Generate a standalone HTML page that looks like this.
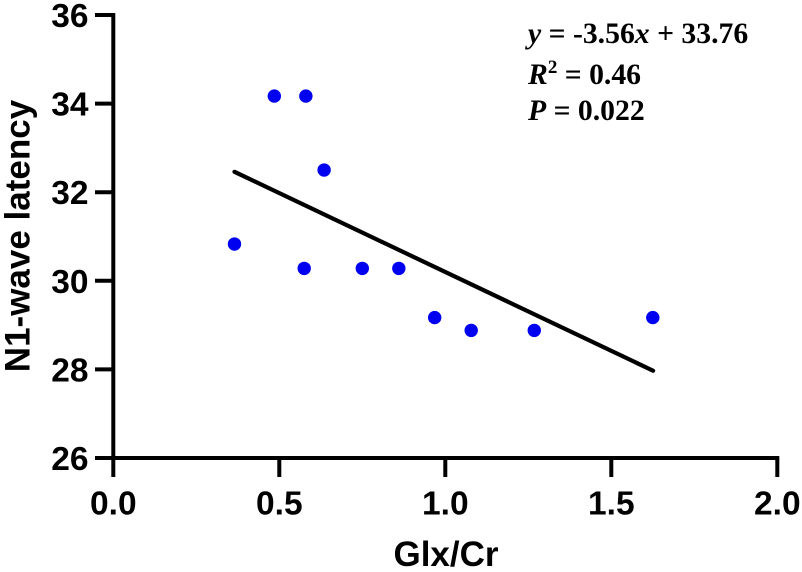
<!DOCTYPE html>
<html>
<head>
<meta charset="utf-8">
<style>
html,body{margin:0;padding:0;background:#fff;}
svg{display:block;}
.tick-label{font-family:"Liberation Sans",sans-serif;font-weight:bold;font-size:33.5px;fill:#000;}
.axis-title{font-family:"Liberation Sans",sans-serif;font-weight:bold;font-size:35px;fill:#000;}
.eq{font-family:"Liberation Serif",serif;font-weight:bold;font-size:29.7px;fill:#000;}
</style>
</head>
<body>
<svg id="chart" width="802" height="572" viewBox="0 0 802 572" xmlns="http://www.w3.org/2000/svg">
<text class="axis-title" transform="translate(29.5,236) rotate(-90)" text-anchor="middle">N1-wave latency</text>
<text class="axis-title" x="446" y="566" text-anchor="middle">Glx/Cr</text>
<text class="eq" x="528" y="43"><tspan font-style="italic">y</tspan> = -3.56<tspan font-style="italic">x</tspan> + 33.76</text>
<text class="eq" x="528" y="84"><tspan font-style="italic">R</tspan><tspan font-size="19" dy="-11">2</tspan><tspan dy="11"> = 0.46</tspan></text>
<text class="eq" x="528" y="120"><tspan font-style="italic">P</tspan> = 0.022</text>
</svg>
<script>
const xTicks = [0.0, 0.5, 1.0, 1.5, 2.0];
const yTicks = [26, 28, 30, 32, 34, 36];
const glxCr = [0.365, 0.485, 0.58, 0.635, 0.575, 0.75, 0.86, 0.968, 1.078, 1.268, 1.625];
const latency = [30.83, 34.17, 34.17, 32.5, 30.28, 30.28, 30.28, 29.17, 28.88, 28.88, 29.17];
const fitX = [0.365, 1.626];
const fitY = [32.46, 27.97];

const svg = document.getElementById('chart');
const NS = 'http://www.w3.org/2000/svg';
function sx(v){ return 113.3 + v * 332; }
function sy(v){ return 458 - (v - 26) * 44.3; }
function make(tag, attrs){
  const el = document.createElementNS(NS, tag);
  for (const k in attrs) el.setAttribute(k, attrs[k]);
  svg.appendChild(el);
  return el;
}
const AXW = 4;
const xAxis = make('line', {x1: sx(0) - 2, x2: sx(2) + 2, y1: sy(26), y2: sy(26), stroke: '#000', 'stroke-width': AXW});


const yAxis = make('line', {x1: sx(0), x2: sx(0), y1: sy(36) - 2, y2: sy(26), stroke: '#000', 'stroke-width': AXW});


xTicks.forEach(function(t){
  const tick = make('line', {x1: sx(t), x2: sx(t), y1: sy(26), y2: 477, stroke: '#000', 'stroke-width': AXW});
  
  
  const label = make('text', {x: sx(t), y: 514.5, 'text-anchor': 'middle', class: 'tick-label'});
  label.textContent = t.toFixed(1);
  
  
});
yTicks.forEach(function(t){
  const tick = make('line', {x1: 95, x2: sx(0), y1: sy(t), y2: sy(t), stroke: '#000', 'stroke-width': AXW});
  
  
  const label = make('text', {x: 88.5, y: sy(t) + 12, 'text-anchor': 'end', class: 'tick-label'});
  label.textContent = String(t);
  
  
});
const fit = make('line', {x1: sx(fitX[0]), y1: sy(fitY[0]), x2: sx(fitX[1]), y2: sy(fitY[1]), stroke: '#000', 'stroke-width': 4.2, 'stroke-linecap': 'round'});


glxCr.forEach(function(v, i){
  const pt = make('circle', {cx: sx(v), cy: sy(latency[i]), r: 6.7, fill: '#0000f0'});
  
  
});
</script>
</body>
</html>
